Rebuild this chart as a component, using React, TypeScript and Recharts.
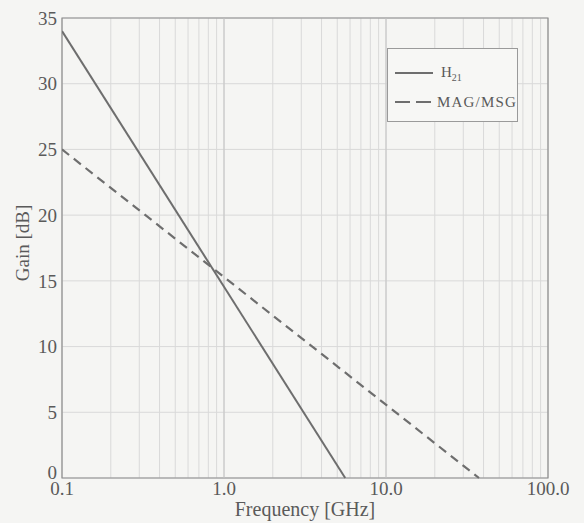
import { CartesianGrid, Line, LineChart, ReferenceArea, ReferenceLine, XAxis, YAxis } from "recharts";

// values
const h21Freq = [0.1, 5.6];
const h21Gain = [34, 0];
const magFreq = [0.1, 37.5];
const magGain = [25, 0];

const decadeTicks = [0.1, 1, 10, 100];
const minorTicks = [
    0.1, 0.2, 0.3, 0.4, 0.5, 0.6, 0.7, 0.8, 0.9,
    1, 2, 3, 4, 5, 6, 7, 8, 9,
    10, 20, 30, 40, 50, 60, 70, 80, 90,
    100,
];
const gainTicks = [0, 5, 10, 15, 20, 25, 30, 35];

const h21Data = h21Freq.map((f, i) => ({ f, gain: h21Gain[i] }));
const magData = magFreq.map((f, i) => ({ f, gain: magGain[i] }));

const font = '"Liberation Serif", "DejaVu Serif", serif';
const ink = "#5a5a5a";
const lineColor = "#6e6e6e";

function formatFreq(value: number) {
    if (!decadeTicks.includes(value)) {
        return "";
    }
    return value.toFixed(1);
}

function GainTick({ x, y, payload }: any) {
    // the bottom "0" sits a little above its grid line in the original
    const shift = payload.value === 0 ? -6 : 0;
    return (
        <text
            x={x}
            y={y + shift}
            dy="0.355em"
            textAnchor="end"
            fill={ink}
            fontSize={19}
            fontFamily={font}
        >
            {payload.value}
        </text>
    );
}

function GainLegend() {
    return (
        <div
            style={{
                position: "absolute",
                left: 387,
                top: 48,
                width: 129,
                height: 72,
                border: "1px solid #9a9a9a",
                background: "#f7f7f5",
                fontFamily: font,
                color: ink,
            }}
        >
            <div style={{ display: "flex", alignItems: "center", height: 24, marginTop: 12 }}>
                <svg width={46} height={6} style={{ marginLeft: 7 }}>
                    <line x1={0} y1={3} x2={38} y2={3} stroke={lineColor} strokeWidth={2} />
                </svg>
                <span style={{ fontSize: 15 }}>
                    H<sub style={{ fontSize: 10 }}>21</sub>
                </span>
            </div>
            <div style={{ display: "flex", alignItems: "center", height: 24, marginTop: 5 }}>
                <svg width={46} height={6} style={{ marginLeft: 7 }}>
                    <line x1={0} y1={3} x2={38} y2={3} stroke={lineColor} strokeWidth={2} strokeDasharray="15 6" />
                </svg>
                <span style={{ fontSize: 15, letterSpacing: 1.2 }}>MAG/MSG</span>
            </div>
        </div>
    );
}

export default function App() {
    return (
        <div style={{ position: "relative", width: 584, height: 523, background: "#f5f5f3" }}>
            <style>{"body{margin:0;background:#f5f5f3}"}</style>
            <LineChart
                width={584}
                height={523}
                margin={{ top: 18, right: 36, bottom: 0, left: 0 }}
                style={{ fontFamily: font }}
            >
                <CartesianGrid stroke="#d9d9d9" />

                <XAxis
                    dataKey="f"
                    type="number"
                    scale="log"
                    domain={[0.1, 100]}
                    ticks={minorTicks}
                    tickFormatter={formatFreq}
                    interval={0}
                    allowDataOverflow
                    axisLine={false}
                    tickLine={false}
                    tickSize={0}
                    tickMargin={4}
                    height={45}
                    tick={{ fill: ink, fontSize: 19, fontFamily: font }}
                    label={{
                        value: "Frequency [GHz]",
                        position: "insideBottom",
                        offset: 7,
                        fill: ink,
                        fontSize: 20,
                        fontFamily: font,
                    }}
                />

                <YAxis
                    type="number"
                    domain={[0, 35]}
                    ticks={gainTicks}
                    interval={0}
                    axisLine={false}
                    tickLine={false}
                    tickSize={0}
                    tickMargin={5}
                    width={62}
                    tick={<GainTick />}
                    label={{
                        content: ({ viewBox }: any) => (
                            <text
                                x={22}
                                y={viewBox.y + viewBox.height / 2 - 5}
                                transform={`rotate(-90 22 ${viewBox.y + viewBox.height / 2 - 5})`}
                                textAnchor="middle"
                                dominantBaseline="central"
                                fill={ink}
                                fontSize={19}
                                fontFamily={font}
                            >
                                Gain [dB]
                            </text>
                        ),
                    }}
                />

                {decadeTicks.slice(1, -1).map((f) => (
                    <ReferenceLine key={f} x={f} stroke="#c4c4c4" />
                ))}

                <ReferenceArea x1={0.1} x2={100} y1={0} y2={35} fill="none" stroke="#8c8c8c" strokeWidth={1.2} />

                <Line
                    data={h21Data}
                    dataKey="gain"
                    name="H21"
                    stroke={lineColor}
                    strokeWidth={2}
                    dot={false}
                    isAnimationActive={false}
                />
                <Line
                    data={magData}
                    dataKey="gain"
                    name="MAG/MSG"
                    stroke={lineColor}
                    strokeWidth={2.2}
                    strokeDasharray="9 6"
                    dot={false}
                    isAnimationActive={false}
                />
            </LineChart>
            <GainLegend />
        </div>
    );
}
